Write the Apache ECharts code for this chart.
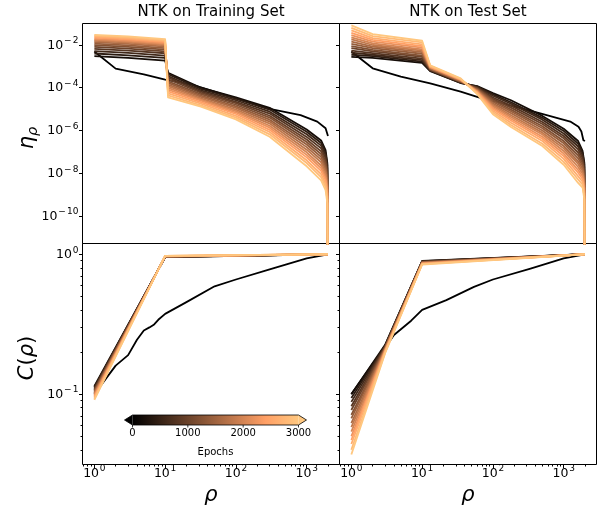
<!DOCTYPE html>
<html><head><meta charset="utf-8">
<script src="https://cdn.jsdelivr.net/npm/echarts@6/dist/echarts.min.js"></script>
<style>html,body{margin:0;padding:0;background:#fff}#c{width:605px;height:510px}</style>
</head><body><div id="c"></div>
<script>
// ---------------- data ----------------
const epochs = [0,200,400,600,800,1000,1200,1400,1600,1800,2000,2200,2400,2600,2800,3000];

// epoch 0 (untrained) spectra
const rhoTrainEpoch0 = [1,2,5,10,24,100,277,820,1413,1850,2000];
const etaTrainEpoch0 = [5.0e-3,7.8e-4,4.2e-4,2.4e-4,1.4e-4,3.2e-5,1.07e-5,5.2e-6,2.6e-6,1.26e-6,5.5e-7];
const rhoTestEpoch0 = [1,2,5,13,35,63,100,467,1240,1620,1780,1900,2000];
const etaTestEpoch0 = [5.0e-3,8.1e-4,3.3e-4,1.6e-4,6.5e-5,3.5e-5,2.4e-5,6.3e-6,2.6e-6,1.5e-6,8.9e-7,3.5e-7,3.2e-7];

// trained epochs (200 ... 3000), spectra on training set
const rhoTrainEta = [1,3,10,11,32,100,300,1000,1600,1850,1960,2000];
const etaTrain = [
 [3.0e-3,2.5e-3,1.85e-3,5.0e-4,1.0e-4,3.5e-5,1.15e-5,1.1e-6,3.4e-7,1.2e-7,3.0e-8,1e-16],
 [4.0e-3,3.3e-3,2.5e-3,4.3e-4,8.9e-5,3.1e-5,9.5e-6,8.7e-7,2.6e-7,9.3e-8,2.3e-8,1e-16],
 [5.2e-3,4.3e-3,3.2e-3,3.5e-4,7.6e-5,2.6e-5,7.6e-6,6.6e-7,1.95e-7,6.9e-8,1.7e-8,1e-16],
 [6.6e-3,5.5e-3,4.1e-3,3.0e-4,6.6e-5,2.2e-5,6.2e-6,5.0e-7,1.45e-7,5.1e-8,1.3e-8,1e-16],
 [8.1e-3,6.7e-3,5.0e-3,2.5e-4,5.8e-5,1.9e-5,4.9e-6,3.8e-7,1.05e-7,3.7e-8,9.3e-9,1e-16],
 [9.8e-3,8.1e-3,6.1e-3,2.0e-4,5.0e-5,1.6e-5,4.0e-6,2.9e-7,7.8e-8,2.75e-8,6.9e-9,1e-16],
 [1.15e-2,9.6e-3,7.1e-3,1.7e-4,4.3e-5,1.35e-5,3.2e-6,2.2e-7,5.8e-8,2.0e-8,5.0e-9,1e-16],
 [1.35e-2,1.12e-2,8.4e-3,1.4e-4,3.7e-5,1.15e-5,2.6e-6,1.66e-7,4.3e-8,1.5e-8,3.8e-9,1e-16],
 [1.55e-2,1.29e-2,9.6e-3,1.2e-4,3.2e-5,9.5e-6,2.1e-6,1.26e-7,3.2e-8,1.12e-8,2.8e-9,1e-16],
 [1.74e-2,1.45e-2,1.08e-2,9.8e-5,2.8e-5,8.1e-6,1.66e-6,9.5e-8,2.3e-8,8.3e-9,2.1e-9,1e-16],
 [1.95e-2,1.62e-2,1.21e-2,8.1e-5,2.5e-5,6.9e-6,1.35e-6,7.2e-8,1.74e-8,6.2e-9,1.55e-9,1e-16],
 [2.2e-2,1.83e-2,1.36e-2,6.8e-5,2.1e-5,5.9e-6,1.07e-6,5.5e-8,1.29e-8,4.6e-9,1.15e-9,1e-16],
 [2.45e-2,2.05e-2,1.52e-2,5.4e-5,1.8e-5,4.8e-6,8.5e-7,4.0e-8,9.1e-9,3.2e-9,8.0e-10,1e-16],
 [2.75e-2,2.3e-2,1.7e-2,4.4e-5,1.5e-5,4.0e-6,6.6e-7,3.0e-8,6.5e-9,2.3e-9,5.8e-10,1e-16],
 [3.0e-2,2.55e-2,1.9e-2,3.5e-5,1.3e-5,3.3e-6,5.1e-7,2.1e-8,4.6e-9,1.6e-9,4.0e-10,1e-16]
];

// trained epochs, spectra on test set
const rhoTestEta = [1,2,10,13,35,60,100,180,500,1000,1600,1850,1960,2000];
const etaTest = [
 [2.8e-3,2.5e-3,1.45e-3,6.0e-4,1.66e-4,1.2e-4,5.6e-5,2.6e-5,4.8e-6,1.2e-6,3.2e-7,1.12e-7,3.1e-8,1e-16],
 [3.5e-3,3.0e-3,1.66e-3,6.3e-4,1.7e-4,1.15e-4,4.9e-5,2.1e-5,3.9e-6,9.5e-7,2.4e-7,8.9e-8,2.5e-8,1e-16],
 [4.4e-3,3.5e-3,1.95e-3,6.5e-4,1.78e-4,1.07e-4,4.2e-5,1.78e-5,3.2e-6,7.2e-7,1.78e-7,6.6e-8,1.85e-8,1e-16],
 [5.5e-3,4.2e-3,2.3e-3,6.8e-4,1.82e-4,1.0e-4,3.5e-5,1.45e-5,2.5e-6,5.5e-7,1.3e-7,5.0e-8,1.4e-8,1e-16],
 [7.1e-3,5.0e-3,2.75e-3,7.1e-4,1.9e-4,9.5e-5,3.0e-5,1.17e-5,2.0e-6,4.3e-7,9.3e-8,3.8e-8,1.06e-8,1e-16],
 [8.9e-3,5.9e-3,3.2e-3,7.4e-4,1.95e-4,8.9e-5,2.6e-5,9.5e-6,1.58e-6,3.2e-7,6.9e-8,2.9e-8,8.1e-9,1e-16],
 [1.12e-2,7.1e-3,3.9e-3,7.8e-4,2.0e-4,8.3e-5,2.2e-5,7.9e-6,1.26e-6,2.5e-7,5.0e-8,2.2e-8,6.2e-9,1e-16],
 [1.45e-2,8.5e-3,4.6e-3,8.1e-4,2.1e-4,7.9e-5,1.86e-5,6.5e-6,1.0e-6,1.86e-7,3.6e-8,1.66e-8,4.6e-9,1e-16],
 [1.82e-2,1.0e-2,5.4e-3,8.5e-4,2.2e-4,7.4e-5,1.58e-5,5.2e-6,7.9e-7,1.45e-7,2.7e-8,1.26e-8,3.5e-9,1e-16],
 [2.3e-2,1.2e-2,6.3e-3,8.9e-4,2.3e-4,6.9e-5,1.38e-5,4.3e-6,6.5e-7,1.1e-7,1.95e-8,9.5e-9,2.7e-9,1e-16],
 [2.9e-2,1.45e-2,7.6e-3,9.3e-4,2.35e-4,6.6e-5,1.17e-5,3.5e-6,5.1e-7,8.3e-8,1.41e-8,7.2e-9,2.0e-9,1e-16],
 [3.7e-2,1.74e-2,8.9e-3,9.5e-4,2.45e-4,6.2e-5,1.0e-5,2.9e-6,4.1e-7,6.3e-8,1.05e-8,5.4e-9,1.5e-9,1e-16],
 [4.8e-2,2.1e-2,1.07e-2,1.02e-3,2.5e-4,5.8e-5,8.3e-6,2.3e-6,3.2e-7,4.7e-8,7.2e-9,4.0e-9,1.1e-9,1e-16],
 [6.3e-2,2.6e-2,1.32e-2,1.07e-3,2.6e-4,5.4e-5,6.9e-6,1.8e-6,2.4e-7,3.4e-8,5.1e-9,2.9e-9,8.1e-10,1e-16],
 [8.3e-2,3.2e-2,1.58e-2,1.12e-3,2.75e-4,5.0e-5,5.8e-6,1.45e-6,1.86e-7,2.5e-8,3.5e-9,2.1e-9,5.9e-10,1e-16]
];

// cumulative C(rho)
const rhoTrainCEpoch0 = [1,2,3,4,5,6,7,8,10,20,50,100,300,1000,2000];
const cTrainEpoch0 = [0.10,0.16,0.19,0.245,0.285,0.30,0.315,0.34,0.375,0.455,0.59,0.66,0.78,0.935,1.0];
const rhoTestCEpoch0 = [1,2,3,4,7,10,22,54,100,340,1000,2000];
const cTestEpoch0 = [0.10,0.165,0.215,0.265,0.335,0.40,0.47,0.585,0.66,0.79,0.935,1.0];
const rhoTrainC = [1,10,2000];
const cTrain = [
 [0.114,0.955,1],[0.112,0.956,1],[0.111,0.958,1],[0.109,0.959,1],[0.107,0.960,1],
 [0.106,0.962,1],[0.104,0.963,1],[0.102,0.965,1],[0.101,0.966,1],[0.099,0.967,1],
 [0.0975,0.969,1],[0.096,0.970,1],[0.0945,0.972,1],[0.0925,0.973,1],[0.091,0.975,1]
];
const rhoTestC = [1,3,10,2000];
const cTest = [
 [0.100,0.225,0.895,1],[0.094,0.223,0.892,1],[0.088,0.221,0.888,1],[0.082,0.219,0.885,1],
 [0.077,0.217,0.881,1],[0.071,0.215,0.878,1],[0.067,0.213,0.874,1],[0.062,0.211,0.871,1],
 [0.058,0.209,0.867,1],[0.054,0.207,0.864,1],[0.050,0.205,0.860,1],[0.047,0.203,0.857,1],
 [0.044,0.201,0.853,1],[0.040,0.199,0.849,1],[0.037,0.196,0.845,1]
];

// ticks
const xMajorTicks = [1,10,100,1000];
const xMinorTicks = [0.7,0.8,0.9,2,3,4,5,6,7,8,9,20,30,40,50,60,70,80,90,200,300,400,500,600,700,800,900,2000];
const etaMajorTicks = [1e-10,1e-8,1e-6,1e-4,1e-2];
const cMajorTicks = [0.1,1];
const cMinorTicks = [0.04,0.05,0.06,0.07,0.08,0.09,0.2,0.3,0.4,0.5,0.6,0.7,0.8,0.9];
const colorbarTicks = [0,1000,2000,3000];
const titles = ['NTK on Training Set','NTK on Test Set'];

// ---------------- styling / layout ----------------
const FONT = 'DejaVu Sans';
const xLim = [0.68, 2910];
const etaLim = [5.13e-12, 0.1014];
const cLim = [0.0314, 1.194];
const X0 = 82.5, XM = 339.5, X1 = 596.5, Y0 = 23.5, YM = 243.5, Y1 = 464.5;
const LINE_W = 1.8;

function copper(t){
  const r = Math.min(1, 1.25*t), g = 0.7812*t, b = 0.4975*t;
  return 'rgb(' + Math.round(r*255) + ',' + Math.round(g*255) + ',' + Math.round(b*255) + ')';
}
const tickLine = {color:'#000', width:1};

const grids = [
  {left:X0, top:Y0, width:XM-X0, height:YM-Y0},
  {left:XM, top:Y0, width:X1-XM, height:YM-Y0},
  {left:X0, top:YM, width:XM-X0, height:Y1-YM},
  {left:XM, top:YM, width:X1-XM, height:Y1-YM}
].map(g => Object.assign(g, {show:true, borderColor:'#000', borderWidth:1, backgroundColor:'transparent'}));

const xAxis = [], yAxis = [];
for (let i = 0; i < 4; i++) {
  const bottom = i >= 2;
  xAxis.push({
    type:'log', logBase:10, gridIndex:i, min:xLim[0], max:xLim[1], position:'bottom',
    axisLine:{show:false}, splitLine:{show:false},
    axisTick:{show:bottom, customValues:xMajorTicks, length:3.5, lineStyle:tickLine},
    axisLabel:{show:false}
  });
  yAxis.push({
    type:'log', logBase:10, gridIndex:i, position:'left',
    min: bottom ? cLim[0] : etaLim[0], max: bottom ? cLim[1] : etaLim[1],
    axisLine:{show:false}, splitLine:{show:false},
    axisTick:{show:true, customValues: bottom ? cMajorTicks : etaMajorTicks, length:3.5, lineStyle:tickLine},
    axisLabel:{show:false}
  });
}
// minor tick axes for the bottom panels
for (let i = 2; i < 4; i++) {
  xAxis.push({
    type:'log', logBase:10, gridIndex:i, min:xLim[0], max:xLim[1], position:'bottom',
    axisLine:{show:false}, splitLine:{show:false}, axisLabel:{show:false},
    axisTick:{show:true, customValues:xMinorTicks, length:2, lineStyle:tickLine}
  });
  yAxis.push({
    type:'log', logBase:10, gridIndex:i, min:cLim[0], max:cLim[1], position:'left',
    axisLine:{show:false}, splitLine:{show:false}, axisLabel:{show:false},
    axisTick:{show:true, customValues:cMinorTicks, length:2, lineStyle:tickLine}
  });
}

const series = [];
function addLine(idx, rhos, vals, color){
  series.push({
    type:'line', xAxisIndex:idx, yAxisIndex:idx, showSymbol:false, symbol:'none',
    clip:true, silent:true, animation:false,
    lineStyle:{color:color, width:LINE_W, cap:'butt', join:'round'},
    data: rhos.map((r, j) => [r, vals[j]])
  });
}
function addPanel(idx, rho0, vals0, rhos, valsByEpoch){
  addLine(idx, rho0, vals0, copper(epochs[0]/3000));
  valsByEpoch.forEach((vals, k) => addLine(idx, rhos, vals, copper(epochs[k+1]/3000)));
}
addPanel(0, rhoTrainEpoch0, etaTrainEpoch0, rhoTrainEta, etaTrain);
addPanel(1, rhoTestEpoch0, etaTestEpoch0, rhoTestEta, etaTest);
addPanel(2, rhoTrainCEpoch0, cTrainEpoch0, rhoTrainC, cTrain);
addPanel(3, rhoTestCEpoch0, cTestEpoch0, rhoTestC, cTest);

const chart = echarts.init(document.getElementById('c'), null, {renderer:'canvas'});
chart.setOption({animation:false, backgroundColor:'#fff', grid:grids, xAxis, yAxis, series});

// ---------------- text, tick labels & colorbar ----------------
const graphic = [];
const mctx = document.createElement('canvas').getContext('2d');
function textW(t, size){ mctx.font = size + 'px "' + FONT + '"'; return mctx.measureText(t).width; }
const BASE = 12.5, SUP = 9, SUP_RISE = 4.5;
function txt(x, y, t, size, align, extra){
  graphic.push(Object.assign({type:'text', x:x, y:y, silent:true,
    style:{text:t, fontSize:size, fontFamily:FONT, fill:'#000', align:align, verticalAlign:'middle'}}, extra || {}));
}
// "10^e" label drawn from base text and superscript
function powLabel(v, anchorX, baseY, mode){
  const e = Math.round(Math.log10(v));
  const neg = e < 0, digits = String(Math.abs(e));
  const bw = textW('10', BASE), mw = neg ? textW('\u2212', SUP) + 1.2 : 0, dw = textW(digits, SUP);
  const total = bw + 0.8 + mw + dw;
  const L = mode === 'right' ? anchorX - total : anchorX - total / 2;
  txt(L, baseY, '10', BASE, 'left');
  if (neg) txt(L + bw + 0.8, baseY - SUP_RISE, '\u2212', SUP, 'left');
  txt(L + bw + 0.8 + mw, baseY - SUP_RISE, digits, SUP, 'left');
}
[[0, etaMajorTicks], [2, cMajorTicks]].forEach(([g, ticks]) => {
  ticks.forEach(v => {
    const p = chart.convertToPixel({gridIndex:g}, [xLim[0], v]);
    powLabel(v, p[0] - 4, p[1] + 0.5, 'right');
  });
});
[2, 3].forEach(g => {
  xMajorTicks.forEach(v => {
    const p = chart.convertToPixel({gridIndex:g}, [v, cLim[0]]);
    powLabel(v, p[0], p[1] + 9, 'center');
  });
});

const mathRich = {
  i:{fontSize:21, fontFamily:FONT, fontStyle:'italic', fill:'#000'},
  n:{fontSize:21, fontFamily:FONT, fill:'#000'},
  sub:{fontSize:14.5, fontFamily:FONT, fontStyle:'italic', fill:'#000', padding:[10,0,0,0]}
};
titles.forEach((t, i) => txt(i === 0 ? (X0+XM)/2 : (XM+X1)/2, 12, t, 15, 'center'));
graphic.push({type:'text', x:28, y:138, rotation:Math.PI/2,
  style:{text:'{i|\u03b7}{sub|\u03c1}', rich:mathRich, align:'center', verticalAlign:'middle'}});
graphic.push({type:'text', x:28, y:358, rotation:Math.PI/2,
  style:{text:'{i|C}{n|(}{i|\u03c1}{n|)}', rich:mathRich, align:'center', verticalAlign:'middle'}});
[(X0+XM)/2, (XM+X1)/2].forEach(cx => graphic.push({type:'text', x:cx, y:496,
  style:{text:'{i|\u03c1}', rich:mathRich, align:'center', verticalAlign:'middle'}}));

// colorbar (Epochs)
const cbL = 132.5, cbR = 298.5, cbT = 415, cbB = 425, cbTip = 8, cbMid = (cbT+cbB)/2;
graphic.push({type:'rect', shape:{x:cbL, y:cbT, width:cbR-cbL, height:cbB-cbT},
  style:{fill:{type:'linear', x:0, y:0, x2:1, y2:0, colorStops:[
    {offset:0, color:copper(0)}, {offset:0.8, color:copper(0.8)}, {offset:1, color:copper(1)}]}}});
graphic.push({type:'polygon', shape:{points:[[cbL,cbT],[cbL-cbTip,cbMid],[cbL,cbB]]}, style:{fill:copper(0)}});
graphic.push({type:'polygon', shape:{points:[[cbR,cbT],[cbR+cbTip,cbMid],[cbR,cbB]]}, style:{fill:copper(1)}});
graphic.push({type:'polygon', shape:{points:[[cbL,cbT],[cbR,cbT],[cbR+cbTip,cbMid],[cbR,cbB],[cbL,cbB],[cbL-cbTip,cbMid]]},
  style:{fill:'none', stroke:'#000', lineWidth:0.8}});
colorbarTicks.forEach(v => {
  const x = cbL + (cbR-cbL)*v/3000;
  graphic.push({type:'line', shape:{x1:x, y1:cbB, x2:x, y2:cbB+2.5}, style:{stroke:'#000', lineWidth:0.8}});
  txt(x, 433, String(v), 10, 'center');
});
txt((cbL+cbR)/2, 452, 'Epochs', 10, 'center');

chart.setOption({graphic: graphic});
</script></body></html>
